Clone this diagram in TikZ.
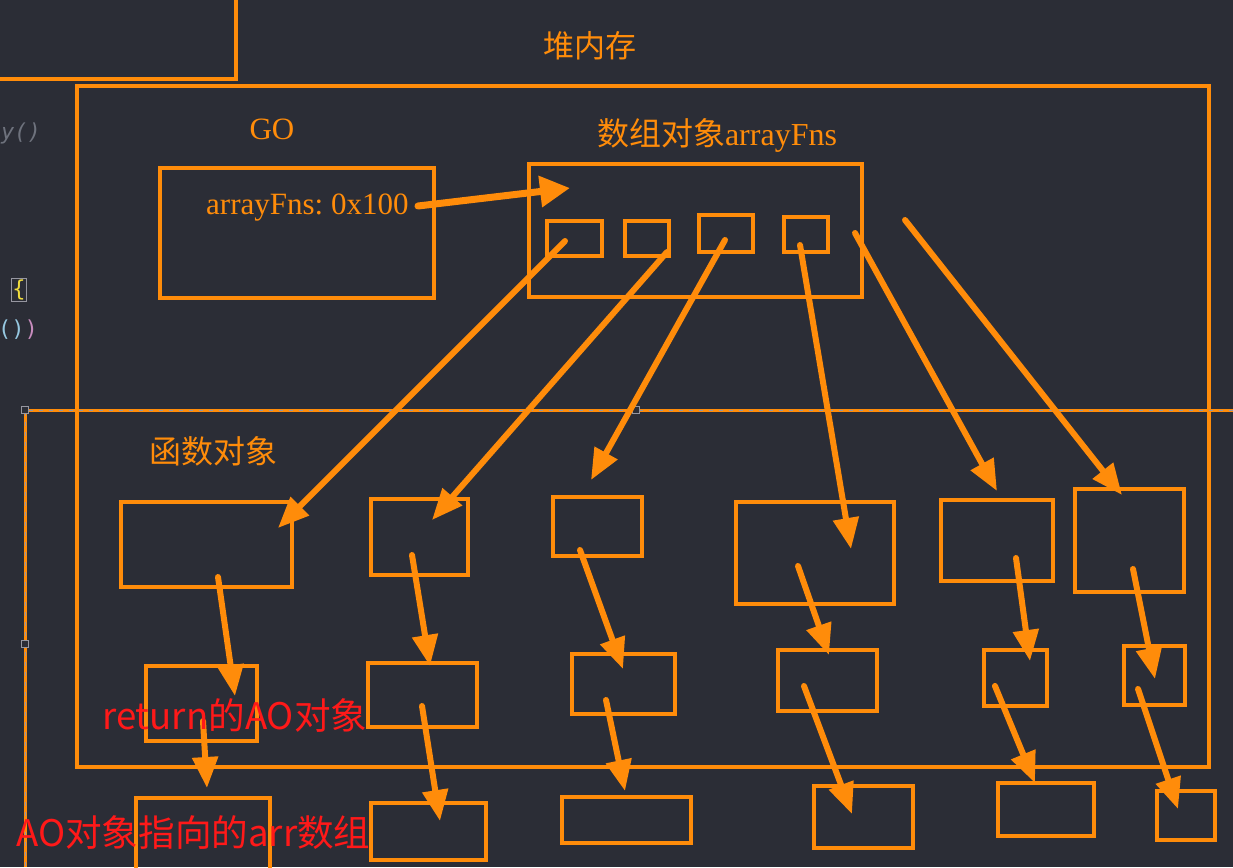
\documentclass[tikz,border=0pt]{standalone}
\usepackage{fontspec}
\setmainfont{Liberation Serif}
\newfontfamily\cjk{Noto Sans CJK SC}
\newfontfamily\codefont{DejaVu Sans Mono}
\usetikzlibrary{arrows.meta,calc}
\frenchspacing
\definecolor{bg}{RGB}{43,45,54}
\definecolor{org}{RGB}{255,140,10}
\definecolor{redlbl}{RGB}{255,25,25}
\definecolor{codegray}{RGB}{110,114,125}
\definecolor{codeblue}{RGB}{150,200,225}
\definecolor{codepink}{RGB}{200,140,190}
\definecolor{codeyel}{RGB}{240,220,60}
\definecolor{handle}{RGB}{150,150,160}
\tikzset{
  box/.style={draw=org,line width=3.6pt,inner sep=0pt,outer sep=0pt},
  conn/.style={draw=org,line width=6pt,line cap=round,-{Triangle[length=31pt,width=25pt]}},
  otext/.style={text=org,inner sep=0pt,font=\fontsize{31}{35}\selectfont},
  rtext/.style={text=redlbl,inner sep=0pt,font=\cjk\fontsize{36.6}{40}\selectfont},
  selline/.style={draw=org,line width=3pt},
  seldash/.style={draw=handle,line width=0.8pt,dash pattern=on 4pt off 6pt},
  hnd/.style={draw=handle,fill=bg,line width=1pt,minimum size=7pt,inner sep=0pt}
}
\newcommand{\bx}[5]{\node[box,minimum width={#4-#2},minimum height={#5-#3}] (#1) at ({(#2+#4)/2},{(#3+#5)/2}) {};}
\begin{document}
\begin{tikzpicture}[x=1pt,y=-1pt]
\fill[bg] (0,0) rectangle (1233,867);
\useasboundingbox (0,0) rectangle (1233,867);
% stray editor fragments
\node[text=codegray,anchor=base west,inner sep=0pt,font=\codefont\itshape\fontsize{22}{24}\selectfont] (c1) at (1,139) {y()};
\node[draw=handle,line width=1pt,text=codeyel,inner sep=1pt,font=\codefont\fontsize{22}{24}\selectfont] (c2) at (19,290) {\{};
\node[anchor=base west,inner sep=0pt,font=\codefont\fontsize{22}{24}\selectfont] (c3) at (-2,336) {\textcolor{codeblue}{()}\textcolor{codepink}{)}};
% top-left partial box
\coordinate (tl0) at (0,79);
\coordinate (tl1) at (236,79);
\coordinate (tl2) at (236,0);
\draw[org,line width=3.6pt] (tl0) -- (tl1) -- (tl2);
% titles
\node[otext,font=\cjk\fontsize{31}{35}\selectfont] (heap) at (590,46) {堆内存};
% heap box
\bx{heapbox}{77}{86}{1209}{767}
% selection (dashed) lines
\coordinate (sA) at (25,410);
\coordinate (sB) at (1233,410);
\coordinate (sC) at (25,867);
\draw[selline] (sB) -- (sA) -- (sC);
\draw[seldash] (sB) -- (sA) -- (sC);
\node[hnd] (h1) at (25,410) {};
\node[hnd] (h2) at (636,410) {};
\node[hnd] (h3) at (25,644) {};
% GO
\node[otext,anchor=base] (go) at (272,139) {GO};
\bx{gobox}{160}{168}{434}{298}
\node[otext,anchor=base west] (gotxt) at (206,214) {arrayFns: 0x100};
% array object
\node[otext,anchor=base,font=\fontsize{32}{36}\selectfont] (arrtitle) at (717,145) {{\cjk 数组对象}arrayFns};
\bx{arrbox}{529}{164}{862}{297}
\bx{s1}{547}{221}{602}{256}
\bx{s2}{625}{221}{669}{256}
\bx{s3}{699}{215}{753}{252}
\bx{s4}{784}{217}{828}{252}
% function objects label
\node[otext,font=\cjk\fontsize{32}{36}\selectfont] (fnlbl) at (213,451) {函数对象};
% row 1 function boxes
\bx{fA}{121}{502}{292}{587}
\bx{fB}{371}{499}{468}{575}
\bx{fC}{553}{497}{642}{556}
\bx{fD}{736}{502}{894}{604}
\bx{fE}{941}{500}{1053}{581}
\bx{fF}{1075}{489}{1184}{592}
% row 2 AO boxes
\bx{aA}{146}{666}{257}{741}
\bx{aB}{368}{663}{477}{727}
\bx{aC}{572}{654}{675}{714}
\bx{aD}{778}{650}{877}{711}
\bx{aE}{984}{650}{1047}{706}
\bx{aF}{1124}{646}{1185}{705}
% row 3 arr boxes
\bx{rA}{136}{798}{270}{880}
\bx{rB}{371}{803}{486}{860}
\bx{rC}{562}{797}{691}{843}
\bx{rD}{814}{786}{913}{848}
\bx{rE}{998}{783}{1094}{836}
\bx{rF}{1157}{791}{1215}{840}
% arrow GO -> array
\coordinate (g0) at (418,206);
\coordinate (g1) at (570,188);
\draw[draw=org,line width=7pt,line cap=round,-{Triangle[length=30pt,width=30pt]}] (g0) -- (g1);
% arrows array -> function objects
\coordinate (p1) at (565,241); \coordinate (q1) at (278,528);
\coordinate (p2) at (667,252); \coordinate (q2) at (432,520);
\coordinate (p3) at (725,240); \coordinate (q3) at (591,480);
\coordinate (p4) at (800,245); \coordinate (q4) at (851,549);
\coordinate (p5) at (855,233); \coordinate (q5) at (997,491);
\coordinate (p6) at (905,220); \coordinate (q6) at (1122,495);
\foreach \i in {1,...,6}{\draw[conn] (p\i) -- (q\i);}
% arrows function -> AO
\coordinate (u1) at (218,577); \coordinate (v1) at (235,696);
\coordinate (u2) at (412,555); \coordinate (v2) at (430,666);
\coordinate (u3) at (580,550); \coordinate (v3) at (623,669);
\coordinate (u4) at (798,566); \coordinate (v4) at (829,655);
\coordinate (u5) at (1016,558); \coordinate (v5) at (1030,661);
\coordinate (u6) at (1133,569); \coordinate (v6) at (1155,679);
\foreach \i in {1,...,6}{\draw[conn] (u\i) -- (v\i);}
% arrows AO -> arr
\coordinate (w1) at (203,721); \coordinate (z1) at (207,788);
\coordinate (w2) at (422,706); \coordinate (z2) at (440,821);
\coordinate (w3) at (606,700); \coordinate (z3) at (625,791);
\coordinate (w4) at (804,686); \coordinate (z4) at (852,814);
\coordinate (w5) at (995,686); \coordinate (z5) at (1035,783);
\coordinate (w6) at (1138,689); \coordinate (z6) at (1178,809);
\foreach \i in {1,...,6}{\draw[conn] (w\i) -- (z\i);}
% red annotations
\node[rtext,anchor=base west] (ret) at (102,729) {return的AO对象};
\node[rtext,anchor=base west] (aoarr) at (16,846) {AO对象指向的arr数组};
\end{tikzpicture}
\end{document}
